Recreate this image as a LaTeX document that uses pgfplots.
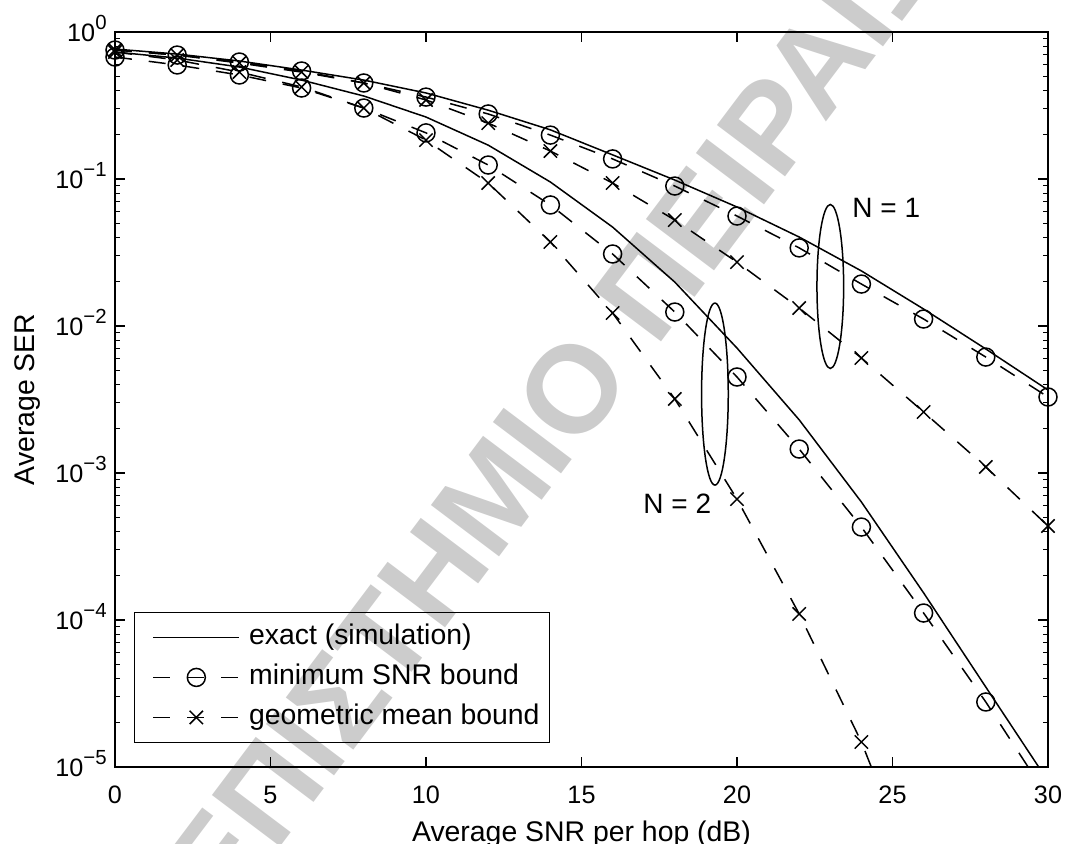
\documentclass[border=0pt]{standalone}
\usepackage{fontspec}
\setmainfont{Liberation Sans}
\usepackage{pgfplots}
\pgfplotsset{compat=1.18}

\definecolor{wmgray}{RGB}{204,204,204}
\newcommand{\lbl}{\fontsize{14.2}{17}\selectfont}
\newcommand{\tck}{\fontsize{12.6}{15}\selectfont}
\newcommand{\decade}[1]{10\raisebox{5.9pt}{\fontsize{10.2}{12}\selectfont #1}}

\begin{document}
\begin{tikzpicture}[x=1pt,y=1pt]
\path[use as bounding box] (-57.5,-38) rectangle (477.5,383.5);
% watermark behind the plot
\node[rotate=53, text=wmgray, font=\fontsize{62}{72}\selectfont\bfseries, inner sep=0pt] at (192.5,141) {ΠΑΝΕΠΙΣΤΗΜΙΟ ΠΕΙΡΑΙΩΣ};
\begin{axis}[
  at={(0,0)}, anchor=south west,
  scale only axis, width=466.5pt, height=367.5pt,
  ymode=log, xmin=0, xmax=30, ymin=1e-5, ymax=1,
  xtick={0,5,...,30},
  ytick={1e-5,1e-4,1e-3,1e-2,1e-1,1},
  minor ytick={2e-5,3e-5,4e-5,5e-5,6e-5,7e-5,8e-5,9e-5,
               2e-4,3e-4,4e-4,5e-4,6e-4,7e-4,8e-4,9e-4,
               2e-3,3e-3,4e-3,5e-3,6e-3,7e-3,8e-3,9e-3,
               2e-2,3e-2,4e-2,5e-2,6e-2,7e-2,8e-2,9e-2,
               0.2,0.3,0.4,0.5,0.6,0.7,0.8,0.9},
  yticklabels={\decade{−5},\decade{−4},\decade{−3},\decade{−2},\decade{−1},\decade{0}},
  /pgf/number format/assume math mode=true,
  xticklabel style={font=\tck, anchor=base, inner sep=0pt, yshift=-18pt},
  yticklabel style={font=\tck, anchor=base east, inner sep=0pt, xshift=-4pt, yshift=-4.6pt},
  axis line style={line width=0.9pt},
  tick style={black, line width=0.6pt},
  major tick length=5pt, minor tick length=2.5pt,
  legend cell align=left,
  legend style={at={(axis description cs:0.02036,0.03265)}, anchor=south west,
    draw=black, line width=0.6pt, fill=none, font=\lbl,
    inner xsep=5pt, inner ysep=5.5pt, row sep=6pt, column sep=4.5pt,
    nodes={inner sep=0pt, text height=10.5pt, text depth=3.5pt}},
  legend image code/.code={
    \path (0pt,0pt) (47pt,0pt);
    \draw[#1, mark=none] (4pt,0pt) -- (47pt,0pt);
    \draw[#1] plot coordinates {(25.5pt,0pt)};
  },
  exact/.style={black, line width=0.75pt},
  minsnr/.style={black, line width=0.75pt, dash pattern=on 8.5pt off 8.5pt,
    mark=o, mark size=4.5pt, mark options={solid}},
  geomean/.style={black, line width=0.75pt, dash pattern=on 8.5pt off 8.5pt,
    mark=x, mark size=4.7pt, mark options={solid}},
]

% N = 1
\addplot[exact] coordinates {
 (0,0.766) (2,0.708) (4,0.635) (6,0.551) (8,0.471) (10,0.385) (12,0.294) (14,0.216)
 (16,0.146) (18,0.0984) (20,0.0645) (22,0.0403) (24,0.0237) (26,0.01305) (28,0.00698) (30,0.00367)};
\addlegendentry{exact (simulation)}
\addplot[minsnr] coordinates {
 (0,0.754) (2,0.697) (4,0.625) (6,0.543) (8,0.450) (10,0.361) (12,0.277) (14,0.199)
 (16,0.137) (18,0.0896) (20,0.0560) (22,0.0340) (24,0.0193) (26,0.01116) (28,0.00615) (30,0.00329)};
\addlegendentry{minimum SNR bound}
\addplot[geomean] coordinates {
 (0,0.754) (2,0.697) (4,0.615) (6,0.534) (8,0.450) (10,0.345) (12,0.240) (14,0.155)
 (16,0.0939) (18,0.0526) (20,0.0272) (22,0.01325) (24,0.00606) (26,0.00260) (28,0.00110) (30,4.36e-4)};
\addlegendentry{geometric mean bound}

% N = 2
\addplot[exact, forget plot] coordinates {
 (0,0.731) (2,0.665) (4,0.578) (6,0.471) (8,0.367) (10,0.264) (12,0.170) (14,0.0954)
 (16,0.0471) (18,0.0199) (20,0.00708) (22,0.00230) (24,6.35e-4) (26,1.53e-4) (28,3.50e-5) (30,8.03e-6)};
\addplot[minsnr, forget plot] coordinates {
 (0,0.676) (2,0.597) (4,0.510) (6,0.416) (8,0.304) (10,0.206) (12,0.1245) (14,0.0666)
 (16,0.0309) (18,0.01245) (20,0.00450) (22,0.001456) (24,4.29e-4) (26,1.116e-4) (28,2.77e-5) (30,6.2e-6)};
\addplot[geomean, forget plot] coordinates {
 (0,0.731) (2,0.645) (4,0.534) (6,0.423) (8,0.304) (10,0.184) (12,0.0939) (14,0.0373)
 (16,0.01226) (18,0.00319) (20,6.65e-4) (22,1.10e-4) (24,1.48e-5) (26,1.26e-6)};

% group markers
\draw[line width=0.75pt] (axis cs:23,0.01858) ellipse [x radius=6.67pt, y radius=41pt];
\draw[line width=0.75pt] (axis cs:19.29,0.003443) ellipse [x radius=6.67pt, y radius=45.5pt];
\node[anchor=base west, inner sep=0pt, font=\fontsize{14}{16}\selectfont] at (axis cs:23.7,0.0551) {N = 1};
\node[anchor=base west, inner sep=0pt, font=\fontsize{14}{16}\selectfont] at (axis cs:16.98,5.34e-4) {N = 2};
\end{axis}
\node[anchor=base, font=\lbl] at (233.25,-37) {Average SNR per hop (dB)};
\node[anchor=base, rotate=90, font=\lbl] at (-40,183.75) {Average SER};
\end{tikzpicture}
\end{document}
